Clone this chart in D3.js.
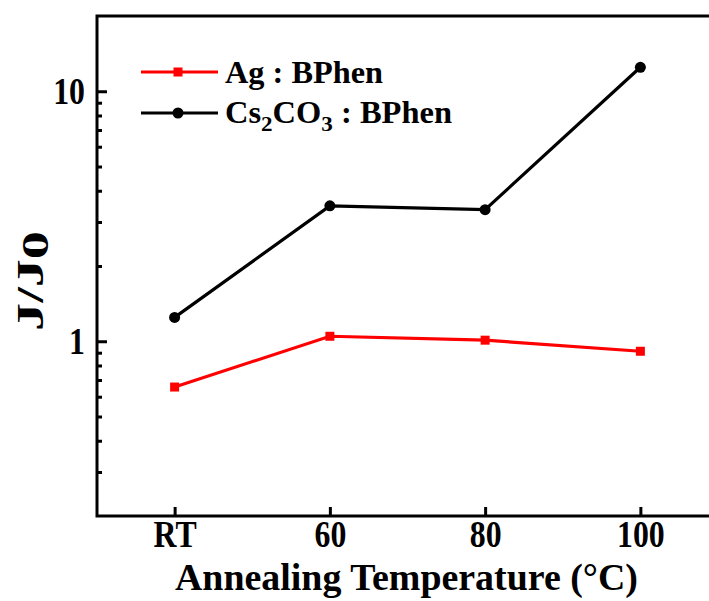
<!DOCTYPE html>
<html>
<head>
<meta charset="utf-8">
<script src="https://cdn.jsdelivr.net/npm/d3@7"></script>
<style>
  html, body { margin: 0; padding: 0; background: #fff; }
  svg { display: block; }
  text { font-family: "Liberation Serif", "Times New Roman", serif; font-weight: bold; fill: #000; }
</style>
</head>
<body>
<svg id="chart" width="709" height="601"></svg>
<script>
// ---- data ----
const categories = ["RT", "60", "80", "100"];
const agBPhen = [0.656, 1.047, 1.01, 0.912];
const csBPhen = [1.246, 3.48, 3.36, 12.47];
const yMajorTicks = [1, 10];
const yMinorTicks = [0.3, 0.4, 0.5, 0.6, 0.7, 0.8, 0.9, 2, 3, 4, 5, 6, 7, 8, 9];
const seriesNames = ["Ag : BPhen", "Cs2CO3 : BPhen"];

// ---- layout ----
const mLeft = 97, mRight = 718, mTop = 16, mBottom = 516;
const svg = d3.select("#chart");

const x = d3.scalePoint().domain(categories).range([mLeft, mRight]).padding(0.5);
const y = d3.scaleLog().domain([0.2, 20]).range([mBottom, mTop]);

// frame
svg.append("rect")
  .attr("x", mLeft).attr("y", mTop)
  .attr("width", mRight - mLeft).attr("height", mBottom - mTop)
  .attr("fill", "none").attr("stroke", "#000").attr("stroke-width", 3);

const sx = 0.86;
// x axis
const gx = svg.append("g").attr("transform", `translate(0,${mBottom})`)
  .call(d3.axisBottom(x).tickSizeInner(-9).tickSizeOuter(0).tickPadding(6));
gx.select(".domain").remove();
gx.selectAll(".tick line").attr("stroke", "#000").attr("stroke-width", 3);
gx.selectAll(".tick text")
  .attr("y", 31).attr("dy", 0)
  .style("font-size", "37px")
  .attr("transform", `scale(${sx},1)`);

// y axis major
const gy = svg.append("g").attr("transform", `translate(${mLeft},0)`)
  .call(d3.axisLeft(y).tickValues(yMajorTicks).tickFormat(d3.format("d")).tickSizeInner(-10).tickSizeOuter(0).tickPadding(12));
gy.select(".domain").remove();
gy.selectAll(".tick line").attr("stroke", "#000").attr("stroke-width", 3);
gy.selectAll(".tick text")
  .attr("dy", "0.34em")
  .style("font-size", "37px")
  .attr("text-anchor", "end")
  .attr("transform", `scale(${sx},1)`)
  .attr("x", -12 / sx);

// y axis minor
const gym = svg.append("g").attr("transform", `translate(${mLeft},0)`)
  .call(d3.axisLeft(y).tickValues(yMinorTicks).tickFormat("").tickSizeInner(-5).tickSizeOuter(0));
gym.select(".domain").remove();
gym.selectAll(".tick line").attr("stroke", "#000").attr("stroke-width", 3);

// lines
const line = d3.line().x((d, i) => x(categories[i])).y(d => y(d));
svg.append("path").datum(agBPhen).attr("d", line)
  .attr("fill", "none").attr("stroke", "#ff0000").attr("stroke-width", 3.2);
svg.append("path").datum(csBPhen).attr("d", line)
  .attr("fill", "none").attr("stroke", "#000").attr("stroke-width", 3.2);

// markers
const sq = 9;
svg.append("g").selectAll("rect").data(agBPhen).join("rect")
  .attr("x", (d, i) => x(categories[i]) - sq / 2)
  .attr("y", d => y(d) - sq / 2)
  .attr("width", sq).attr("height", sq).attr("fill", "#ff0000");
svg.append("g").selectAll("circle").data(csBPhen).join("circle")
  .attr("cx", (d, i) => x(categories[i]))
  .attr("cy", d => y(d))
  .attr("r", 5.5).attr("fill", "#000");

// legend
const lg = svg.append("g");
lg.append("line").attr("x1", 141).attr("x2", 218).attr("y1", 72).attr("y2", 72)
  .attr("stroke", "#ff0000").attr("stroke-width", 3.2);
lg.append("rect").attr("x", 178 - sq / 2).attr("y", 72 - sq / 2).attr("width", sq).attr("height", sq).attr("fill", "#ff0000");
lg.append("line").attr("x1", 141).attr("x2", 218).attr("y1", 113).attr("y2", 113)
  .attr("stroke", "#000").attr("stroke-width", 3.2);
lg.append("circle").attr("cx", 178).attr("cy", 113).attr("r", 5.5).attr("fill", "#000");

lg.append("text").attr("x", 225).attr("y", 83)
  .style("font-size", "31px")
  .attr("textLength", 158).attr("lengthAdjust", "spacingAndGlyphs")
  .text(seriesNames[0]);

const t2 = lg.append("text").attr("x", 225).attr("y", 123)
  .style("font-size", "31px")
  .attr("textLength", 227).attr("lengthAdjust", "spacingAndGlyphs");
t2.append("tspan").text("Cs");
t2.append("tspan").attr("dy", 8).style("font-size", "22px").text("2");
t2.append("tspan").attr("dy", -8).text("CO");
t2.append("tspan").attr("dy", 8).style("font-size", "22px").text("3");
t2.append("tspan").attr("dy", -8).text(" : BPhen");

// axis titles
svg.append("text")
  .attr("x", 175).attr("y", 590)
  .style("font-size", "38px")
  .attr("textLength", 463).attr("lengthAdjust", "spacingAndGlyphs")
  .text("Annealing Temperature (°C)");

const yt = svg.append("text")
  .attr("transform", `translate(43,281) rotate(-90)`)
  .attr("text-anchor", "middle")
  .style("font-size", "37px")
  .attr("textLength", 100).attr("lengthAdjust", "spacingAndGlyphs");
yt.append("tspan").text("J/J");
yt.append("tspan").attr("dy", 5).text("0");
</script>
</body>
</html>
